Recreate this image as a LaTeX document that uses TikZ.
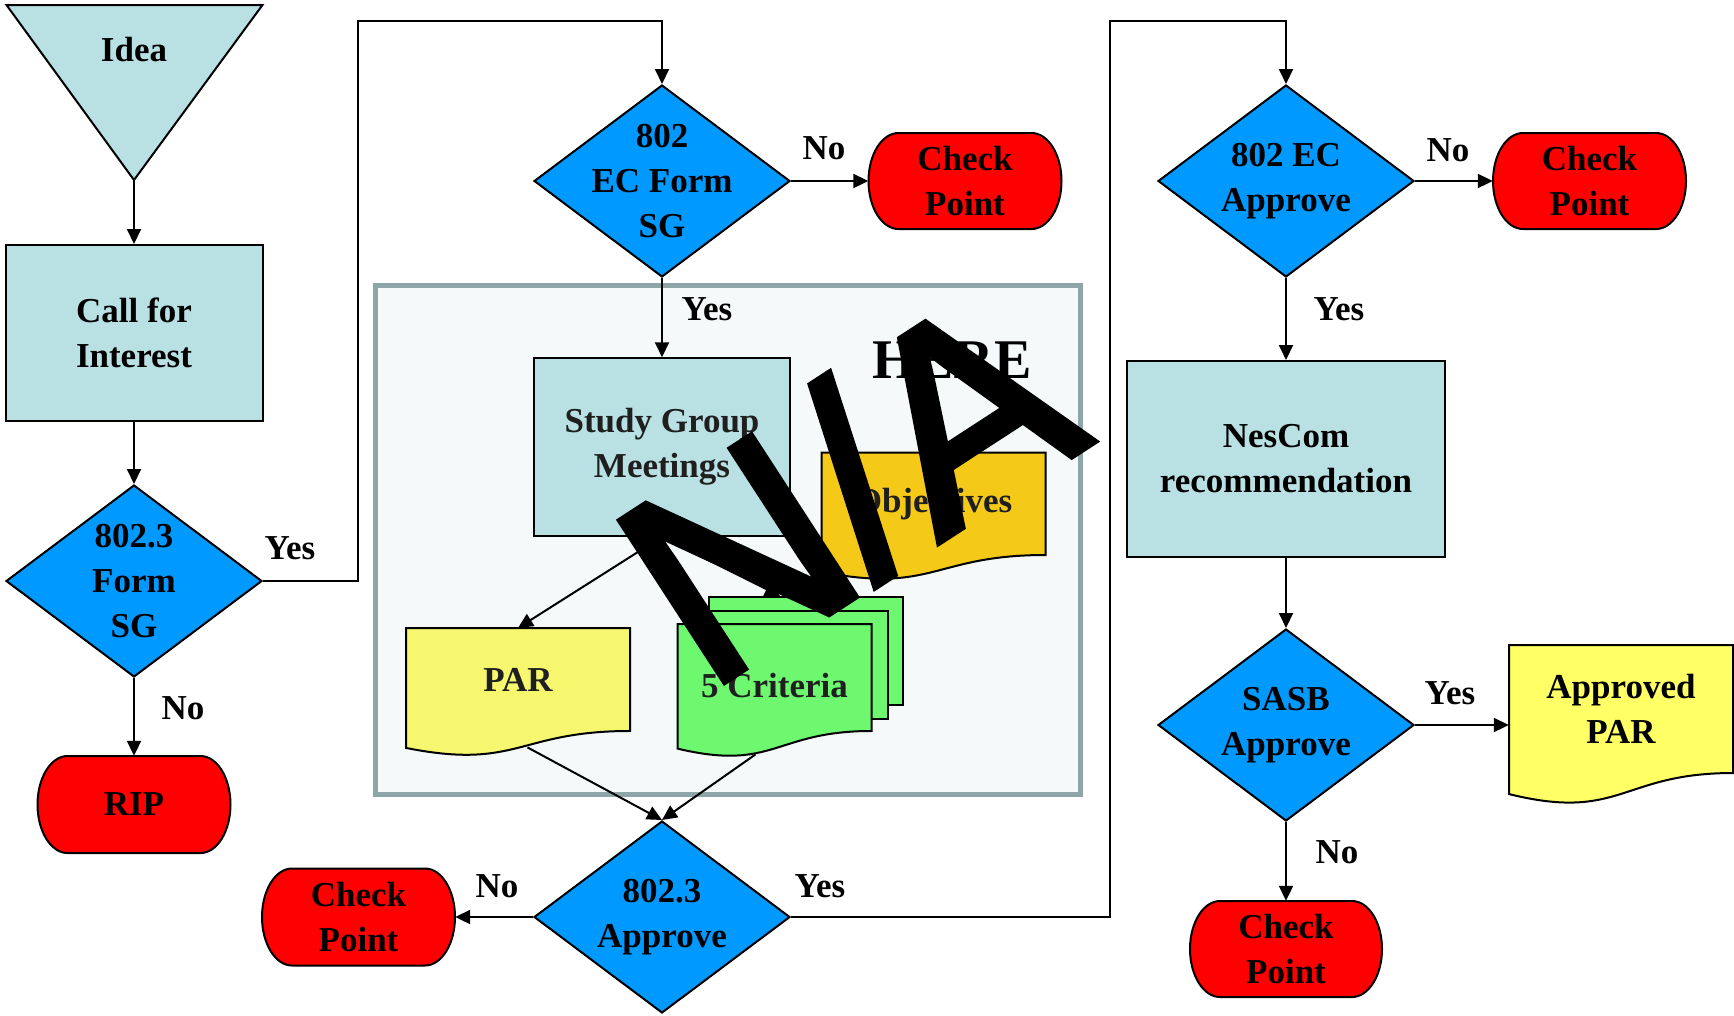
\documentclass[tikz,border=0pt]{standalone}
\usepackage{fontspec}
\setmainfont{Liberation Serif}
\newfontfamily\nafont[FakeBold=2.5]{Liberation Sans}
\usetikzlibrary{shapes.geometric,arrows.meta,calc}
\definecolor{boxblue}{HTML}{B9E0E3}
\definecolor{decblue}{HTML}{0099FF}
\definecolor{termred}{HTML}{FF0000}
\definecolor{parY}{HTML}{F6F76E}
\definecolor{aparY}{HTML}{FFFF66}
\definecolor{objY}{HTML}{F5C918}
\definecolor{critG}{HTML}{6DF870}
\definecolor{contFill}{HTML}{F5F9FA}
\definecolor{contDraw}{HTML}{8FA6A9}
\definecolor{intext}{HTML}{1F1F1F}
\newcommand\fsmain{\fontsize{35}{45}\selectfont}
\newcommand\fslab{\fontsize{35}{40}\selectfont}
\newcommand\trx{30}
% terminator: name, cx, cy, w, h, text
\newcommand\termin[6]{%
  \draw[termline] ({#2-#4/2+\trx},{#3-#5/2}) -- ({#2+#4/2-\trx},{#3-#5/2})
    arc[start angle=-90,end angle=90,x radius=\trx,y radius=#5/2]
    -- ({#2-#4/2+\trx},{#3+#5/2})
    arc[start angle=90,end angle=270,x radius=\trx,y radius=#5/2] -- cycle;
  \node[txt, minimum width=#4 pt, minimum height=#5 pt, inner sep=0pt] (#1) at (#2,#3) {#6};
}
% document outline: x0, y0, w, H, fill
\newcommand\docshape[5]{%
  \draw[docline, fill=#5] (#1,#2) -- ({#1+#3},#2) -- ({#1+#3},{#2+0.802*#4})
    .. controls ({#1+#3/2},{#2+0.802*#4}) and ({#1+#3/2},{#2+1.1075*#4}) ..
    (#1,{#2+0.934*#4}) -- cycle;
}
\begin{document}
\begin{tikzpicture}[x=1pt,y=-1pt,
  txt/.style={font=\bfseries\fsmain, align=center, text=black},
  lab/.style={font=\bfseries\fslab, text=black, inner sep=0pt},
  arr/.style={line width=2pt, draw=black, -{Triangle[length=15pt,width=14pt]}},
  termline/.style={line width=2pt, draw=black, fill=termred},
  docline/.style={line width=2pt, draw=black},
  procbox/.style={rectangle, draw=black, line width=2pt, fill=boxblue, inner sep=0pt, txt},
  dec/.style={diamond, draw=black, line width=2pt, fill=decblue, minimum width=256pt, minimum height=192pt, inner sep=0pt},
  critpage/.style={rectangle, draw=black, line width=2pt, fill=critG, inner sep=0pt, minimum width=194pt, minimum height=108pt, anchor=north west},
  docnode/.style={txt, inner sep=0pt, anchor=north, text=intext}
]
\fill[white] (0,0) rectangle (1734,1015);
\useasboundingbox (0,0) rectangle (1734,1015);

% container
\node[rectangle, draw=contDraw, fill=contFill, line width=5pt, minimum width=705pt, minimum height=509pt, inner sep=0pt] (cont) at (727.5,539.5) {};

% Idea triangle
\draw[line width=2pt, fill=boxblue] (6.5,5) -- (262.5,5) -- (134,180) -- cycle;
\coordinate (ideatip) at (134,180);
\node[txt] (idea) at (134,50) {Idea};

% process boxes
\node[procbox, minimum width=257pt, minimum height=176pt] (cfi) at (134,333) {Call for\\Interest};
\node[procbox, minimum width=255.5pt, minimum height=177.5pt, text=intext] (sg) at (662,447) {Study Group\\Meetings};
\node[procbox, minimum width=318.5pt, minimum height=196pt] (nes) at (1286,459) {NesCom\\recommendation};

% decisions
\node[dec, label={[txt]center:802.3\\Form\\SG}] (dA) at (134,581) {};
\node[dec, label={[txt]center:802\\EC Form\\SG}] (dB) at (662,181) {};
\node[dec, label={[txt]center:802.3\\Approve}] (dC) at (662,917) {};
\node[dec, label={[txt]center:802 EC\\Approve}] (dD) at (1286,181) {};
\node[dec, label={[txt]center:SASB\\Approve}] (dE) at (1286,725) {};

% terminators
\termin{rip}{134}{804.5}{193}{97}{RIP}
\termin{cpa}{965}{181}{193}{96}{Check\\Point}
\termin{cpb}{1589.5}{181}{193}{96}{Check\\Point}
\termin{cpc}{358.5}{917}{193}{97}{Check\\Point}
\termin{cpd}{1286}{949}{192}{96}{Check\\Point}

% documents
\docshape{406}{628}{224}{128.4}{parY}
\node[docnode, minimum width=224pt, minimum height=103pt] (par) at (518,628) {PAR};
\docshape{821.5}{452.5}{224}{127.8}{objY}
\node[docnode, minimum width=224pt, minimum height=102.5pt] (obj) at (933.5,452.5) {Objectives};
\docshape{1509}{645}{224}{159.6}{aparY}
\node[docnode, minimum width=224pt, minimum height=128pt, text=black] (apar) at (1621,645) {Approved\\PAR};

% 5 criteria (multi-document)
\node[critpage] (critback) at (708,596) {};
\node[critpage] (critmid) at (693,610) {};
\docshape{677.5}{624}{194}{133.4}{critG}
\node[docnode, minimum width=194pt, minimum height=107pt, yshift=-8pt] (crit) at (774.5,624) {5 Criteria};

% connectors
\coordinate (c1) at (358,21);
\coordinate (c2) at (1110,21);
\draw[arr] (ideatip) -- (cfi.north);
\draw[arr] (cfi.south) -- (dA.north);
\draw[arr] (dA.south) -- (rip.north);
\draw[arr] (dA.east) -| (c1) -| (dB.north);
\draw[arr] (dB.east) -- (cpa.west);
\draw[arr] (dB.south) -- (sg.north);
\draw[arr] (sg.south) -- (par.north);
\draw[arr] (sg.south) -- ($(critback.north west)+(72,0)$);
\draw[arr] ($(par.south)+(9.5,16)$) -- (dC.north);
\draw[arr] ($(crit.south)+(-19,15)$) -- (dC.north);
\draw[arr] (dC.west) -- (cpc.east);
\draw[arr] (dC.east) -| (c2) -| (dD.north);
\draw[arr] (dD.east) -- (cpb.west);
\draw[arr] (dD.south) -- (nes.north);
\draw[arr] (nes.south) -- (dE.north);
\draw[arr] (dE.east) -- (dE.east -| apar.west);
\draw[arr] (dE.south) -- (cpd.north);

% branch labels
\node[lab] (l1) at (290,548) {Yes};
\node[lab] (l2) at (183,708) {No};
\node[lab] (l3) at (824,148) {No};
\node[lab] (l4) at (707,309) {Yes};
\node[lab] (l5) at (497,886) {No};
\node[lab] (l6) at (820,886) {Yes};
\node[lab] (l7) at (1448,150) {No};
\node[lab] (l8) at (1339,309) {Yes};
\node[lab] (l9) at (1450,693) {Yes};
\node[lab] (l10) at (1337,852) {No};

% HERE
\node[font=\bfseries\fontsize{56}{60}\selectfont, inner sep=0pt] (here) at (952,360) {HERE};

% N/A overlay
\node[rotate=33, font=\nafont\fontsize{278}{278}\selectfont, inner sep=0pt] (na) at (846,484) {N/A};
\end{tikzpicture}
\end{document}
